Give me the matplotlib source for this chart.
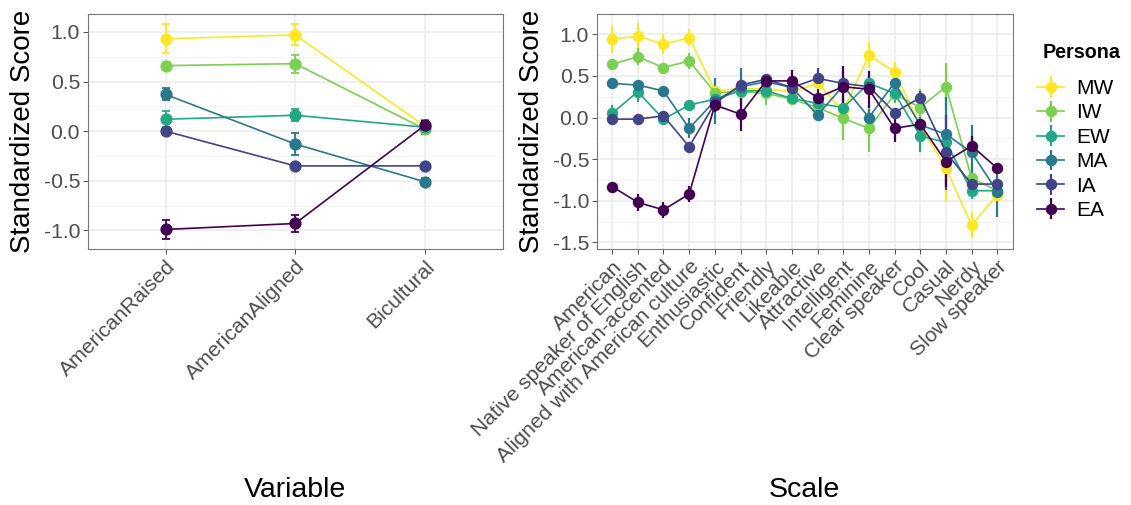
import matplotlib
matplotlib.use("Agg")
import matplotlib.pyplot as plt
import numpy as np
from matplotlib.ticker import FixedLocator, FormatStrFormatter

plt.rcParams['font.family'] = ['Liberation Sans', 'DejaVu Sans']

personas = ["MW", "IW", "EW", "MA", "IA", "EA"]
colors = ["#FDE725", "#7AD151", "#22A884", "#2A788E", "#414487", "#440154"]

# left panel: identity variables
variables = ["AmericanRaised", "AmericanAligned", "Bicultural"]
var_mw = [0.93, 0.97, 0.05]
var_iw = [0.66, 0.68, 0.02]
var_ew = [0.12, 0.16, 0.04]
var_ma = [0.37, -0.13, -0.51]
var_ia = [0.00, -0.35, -0.35]
var_ea = [-0.99, -0.93, 0.06]
var_err_mw = [0.145, 0.105, 0.05]
var_err_iw = [0.04, 0.09, 0.05]
var_err_ew = [0.08, 0.06, 0.07]
var_err_ma = [0.06, 0.11, 0.04]
var_err_ia = [0.02, 0.03, 0.02]
var_err_ea = [0.10, 0.09, 0.04]

# right panel: rating scales
scales = ["American", "Native speaker of English", "American-accented",
          "Aligned with American culture", "Enthusiastic", "Confident",
          "Friendly", "Likeable", "Attractive", "Intelligent", "Feminine",
          "Clear speaker", "Cool", "Casual", "Nerdy", "Slow speaker"]
sc_mw = [0.94, 0.98, 0.88, 0.96, 0.32, 0.35, 0.34, 0.31, 0.41, 0.08, 0.75, 0.55, -0.10, -0.61, -1.29, -0.93]
sc_iw = [0.64, 0.73, 0.60, 0.68, 0.30, 0.31, 0.29, 0.22, 0.12, -0.01, -0.13, 0.28, 0.12, 0.37, -0.73, -0.88]
sc_ew = [0.05, 0.31, -0.02, 0.15, 0.22, 0.32, 0.32, 0.23, 0.17, 0.12, 0.41, 0.29, -0.22, -0.30, -0.88, -0.88]
sc_ma = [0.41, 0.39, 0.32, -0.13, 0.20, 0.37, 0.43, 0.36, 0.03, 0.38, 0.00, 0.42, -0.09, -0.20, -0.42, -0.89]
sc_ia = [-0.02, -0.02, 0.02, -0.35, 0.17, 0.39, 0.46, 0.36, 0.47, 0.41, 0.37, 0.06, 0.24, -0.42, -0.80, -0.80]
sc_ea = [-0.83, -1.02, -1.11, -0.92, 0.15, 0.04, 0.44, 0.44, 0.24, 0.37, 0.34, -0.13, -0.08, -0.53, -0.34, -0.61]
sc_err_mw = [0.16, 0.16, 0.12, 0.10, 0.06, 0.05, 0.05, 0.05, 0.08, 0.10, 0.16, 0.12, 0.10, 0.40, 0.16, 0.06]
sc_err_iw = [0.05, 0.10, 0.05, 0.10, 0.06, 0.08, 0.14, 0.06, 0.10, 0.26, 0.28, 0.10, 0.22, 0.28, 0.18, 0.06]
sc_err_ew = [0.10, 0.12, 0.06, 0.06, 0.06, 0.06, 0.06, 0.06, 0.06, 0.10, 0.10, 0.10, 0.20, 0.15, 0.10, 0.06]
sc_err_ma = [0.05, 0.06, 0.06, 0.12, 0.28, 0.22, 0.05, 0.08, 0.06, 0.18, 0.10, 0.10, 0.10, 0.45, 0.33, 0.30]
sc_err_ia = [0.04, 0.04, 0.04, 0.05, 0.06, 0.05, 0.05, 0.06, 0.12, 0.06, 0.06, 0.06, 0.08, 0.45, 0.08, 0.05]
sc_err_ea = [0.06, 0.10, 0.10, 0.10, 0.08, 0.20, 0.06, 0.13, 0.12, 0.25, 0.22, 0.16, 0.06, 0.30, 0.12, 0.05]

var_means = [var_mw, var_iw, var_ew, var_ma, var_ia, var_ea]
var_errs = [var_err_mw, var_err_iw, var_err_ew, var_err_ma, var_err_ia, var_err_ea]
sc_means = [sc_mw, sc_iw, sc_ew, sc_ma, sc_ia, sc_ea]
sc_errs = [sc_err_mw, sc_err_iw, sc_err_ew, sc_err_ma, sc_err_ia, sc_err_ea]

W, H = 1131, 505
fig = plt.figure(figsize=(W / 100, H / 100), dpi=100)
ax1 = fig.add_axes([87.7 / W, 1 - 249.3 / H, 415 / W, 235.3 / H])
ax2 = fig.add_axes([596.7 / W, 1 - 249.3 / H, 416 / W, 235.3 / H])


def style_axis(ax, labels, yticks, ylim):
    n = len(labels)
    x = np.arange(1, n + 1)
    ax.set_xlim(0.4, n + 0.6)
    ax.set_ylim(*ylim)
    ax.set_xticks(x)
    ax.set_xticklabels(labels, rotation=45, ha='right', va='top',
                       rotation_mode='anchor')
    ax.yaxis.set_major_locator(FixedLocator(yticks))
    ax.yaxis.set_major_formatter(FormatStrFormatter('%.1f'))
    minor = [(a + b) / 2 for a, b in zip(yticks[:-1], yticks[1:])]
    ax.yaxis.set_minor_locator(FixedLocator(minor))
    ax.grid(True, which='major', color='#EBEBEB', lw=1.1, zorder=0)
    ax.grid(True, which='minor', axis='y', color='#F2F2F2', lw=0.6, zorder=0)
    ax.set_axisbelow(True)
    ax.tick_params(axis='both', which='major', length=3.5, width=0.6,
                   color='#333333', labelcolor='#4D4D4D', labelsize=15.2, pad=2)
    ax.tick_params(axis='y', which='minor', length=0)
    for s in ax.spines.values():
        s.set_color('#777777')
        s.set_linewidth(0.8)
    ax.set_ylabel('Standardized Score', fontsize=20, color='black', va='center')
    ax.yaxis.set_label_coords(-0.155, 0.5)
    return x


x1 = style_axis(ax1, variables, [-1.0, -0.5, 0.0, 0.5, 1.0], (-1.19, 1.18))
for m, e, c in zip(var_means, var_errs, colors):
    ax1.errorbar(x1, m, yerr=e, color=c, lw=1.2, marker='o', ms=7.8,
                 elinewidth=1.3, capsize=3, capthick=1.3, zorder=3)
ax1.set_xlabel('Variable', fontsize=20.5, color='black', va='center')
ax1.xaxis.set_label_coords(0.5, -1.023)

x2 = style_axis(ax2, scales, [-1.5, -1.0, -0.5, 0.0, 0.5, 1.0], (-1.584, 1.244))
handles = []
for m, e, c in zip(sc_means, sc_errs, colors):
    h = ax2.errorbar(x2, m, yerr=e, color=c, lw=1.2, marker='o', ms=7.2,
                     elinewidth=1.6, capsize=0, zorder=3)
    handles.append(h)
ax2.set_xlabel('Scale', fontsize=20.5, color='black', va='center')
ax2.xaxis.set_label_coords(0.5, -1.023)

fig.text(1043 / W, 1 - 52.7 / H, 'Persona', fontsize=14.2, fontweight='bold',
         ha='left', va='center')
leg = fig.legend(handles, personas, loc='upper left',
                 bbox_to_anchor=(1037 / W, 1 - 79 / H), frameon=False,
                 fontsize=15, handlelength=1.3, handletextpad=0.6,
                 labelspacing=0.26, borderaxespad=0, borderpad=0)

fig.savefig('out.png', dpi=100)
